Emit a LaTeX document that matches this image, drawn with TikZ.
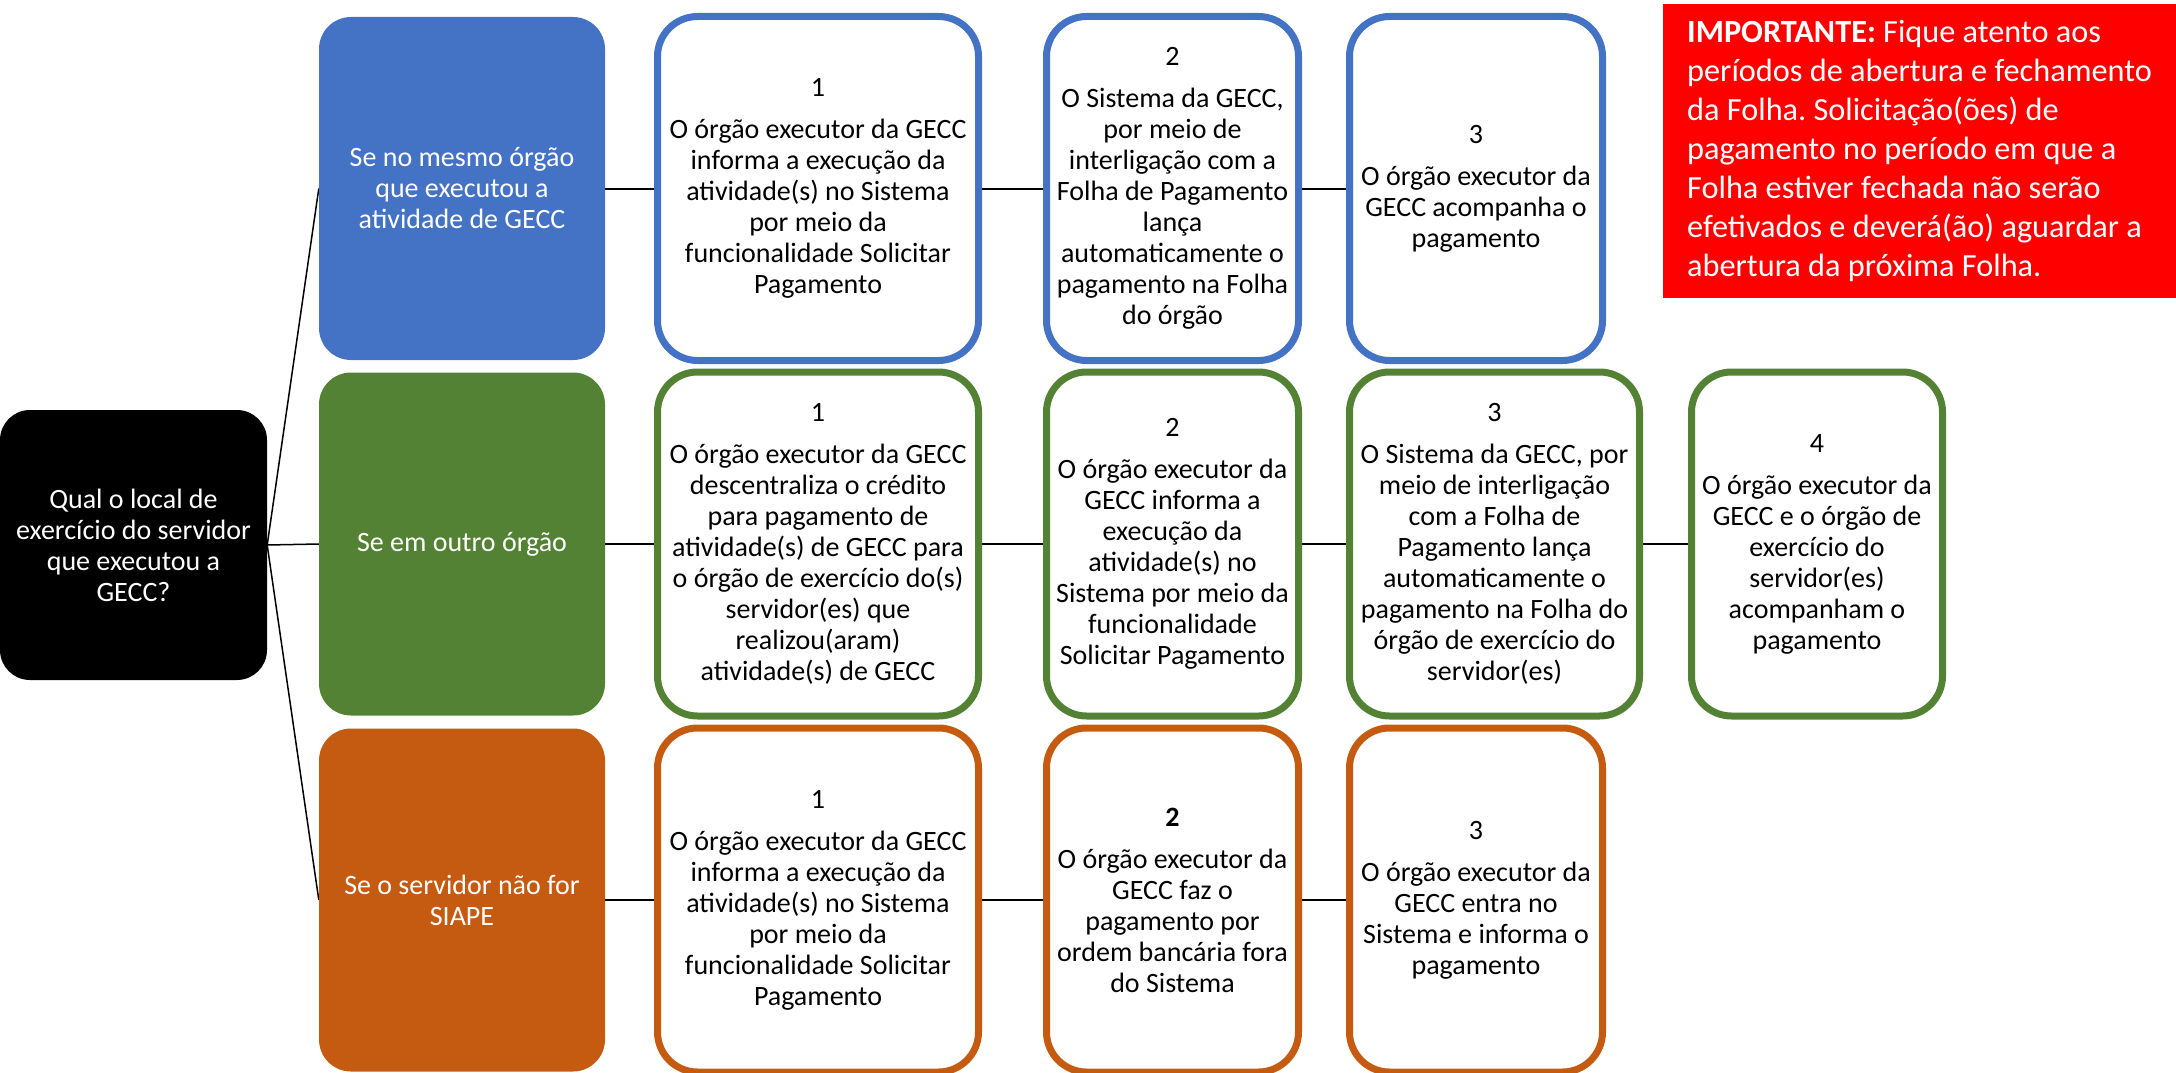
\documentclass[tikz,border=0pt]{standalone}
\usepackage{fontspec}
\setmainfont{Carlito}
\usetikzlibrary{backgrounds}
\definecolor{azul}{HTML}{4472C4}
\definecolor{verde}{HTML}{548235}
\definecolor{laranja}{HTML}{C55A11}
\definecolor{aviso}{HTML}{FF0000}

\begin{document}
\begin{tikzpicture}[x=1pt, y=-1pt,
  every node/.style={font=\fontsize{28}{31}\selectfont, align=center, inner sep=0pt},
  caso/.style={rounded corners=32pt, fill=#1, text=white, minimum width=286pt, minimum height=343pt},
  etapa/.style={rounded corners=40pt, draw=#1, line width=7pt, fill=white, minimum width=321pt, minimum height=344pt},
  liga/.style={line width=2pt}]
\useasboundingbox (0,0) rectangle (2176,1073);

\node[fill=black, text=white, rounded corners=30pt, minimum width=267pt, minimum height=270pt] (Q) at (133.5,545) {Qual o local de\\exercício do servidor\\que executou a\\GECC?};

\node[caso=azul] (A) at (462,188.5) {Se no mesmo órgão\\que executou a\\atividade de GECC};
\node[caso=verde] (B) at (462,544) {Se em outro órgão};
\node[caso=laranja] (C) at (462,900) {Se o servidor não for\\SIAPE};

\node[etapa=azul] (A1) at (818,188.5) {1\\[11pt]O órgão executor da GECC\\informa a execução da\\atividade(s) no Sistema\\por meio da\\funcionalidade Solicitar\\Pagamento};
\node[etapa=azul, minimum width=252pt] (A2) at (1172.5,188.5) {2\\[11pt]O Sistema da GECC,\\por meio de\\interligação com a\\Folha de Pagamento\\lança\\automaticamente o\\pagamento na Folha\\do órgão};
\node[etapa=azul, minimum width=253pt] (A3) at (1476,188.5) {3\\[11pt]O órgão executor da\\GECC acompanha o\\pagamento};

\node[etapa=verde] (B1) at (818,544) {1\\[11pt]O órgão executor da GECC\\descentraliza o crédito\\para pagamento de\\atividade(s) de GECC para\\o órgão de exercício do(s)\\servidor(es) que\\realizou(aram)\\atividade(s) de GECC};
\node[etapa=verde, minimum width=252pt] (B2) at (1172.5,544) {2\\[11pt]O órgão executor da\\GECC informa a\\execução da\\atividade(s) no\\Sistema por meio da\\funcionalidade\\Solicitar Pagamento};
\node[etapa=verde, minimum width=290pt] (B3) at (1494.5,544) {3\\[11pt]O Sistema da GECC, por\\meio de interligação\\com a Folha de\\Pagamento lança\\automaticamente o\\pagamento na Folha do\\órgão de exercício do\\servidor(es)};
\node[etapa=verde, minimum width=251pt] (B4) at (1817,544) {4\\[11pt]O órgão executor da\\GECC e o órgão de\\exercício do\\servidor(es)\\acompanham o\\pagamento};

\node[etapa=laranja] (C1) at (818,900) {1\\[11pt]O órgão executor da GECC\\informa a execução da\\atividade(s) no Sistema\\por meio da\\funcionalidade Solicitar\\Pagamento};
\node[etapa=laranja, minimum width=252pt] (C2) at (1172.5,900) {\textbf{2}\\[11pt]O órgão executor da\\GECC faz o\\pagamento por\\ordem bancária fora\\do Sistema};
\node[etapa=laranja, minimum width=253pt] (C3) at (1476,900) {3\\[11pt]O órgão executor da\\GECC entra no\\Sistema e informa o\\pagamento};

\node[fill=aviso, text=white, align=left, font=\fontsize{32.3}{39}\selectfont\frenchspacing, minimum width=513pt, minimum height=294pt] (nota) at (1919.5,151) {\textbf{IMPORTANTE:} Fique atento aos\\períodos de abertura e fechamento\\da Folha. Solicitação(ões) de\\pagamento no período em que a\\Folha estiver fechada não serão\\efetivados e deverá(ão) aguardar a\\abertura da próxima Folha.};

\begin{pgfonlayer}{background}
\draw[line width=1.5pt] (Q.east) -- (A.west);
\draw[line width=1.5pt] (Q.east) -- (B.west);
\draw[line width=1.5pt] (Q.east) -- (C.west);
\draw[liga] (A) -- (A1) -- (A2) -- (A3);
\draw[liga] (B) -- (B1) -- (B2) -- (B3) -- (B4);
\draw[liga] (C) -- (C1) -- (C2) -- (C3);
\end{pgfonlayer}
\end{tikzpicture}
\end{document}
